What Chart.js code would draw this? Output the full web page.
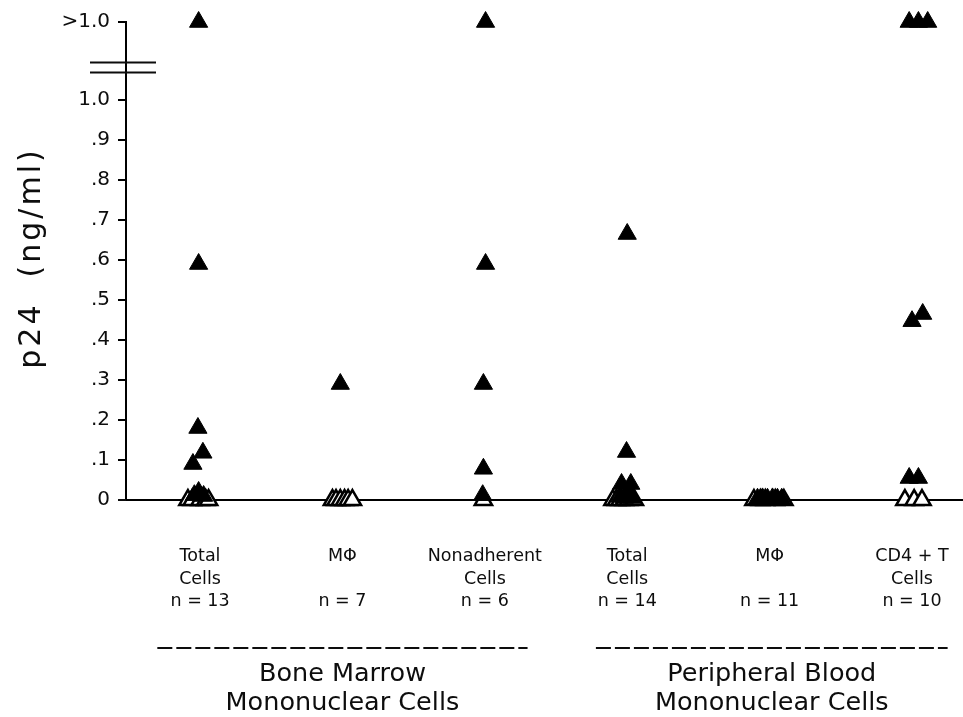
<!DOCTYPE html>
<html><head><meta charset="utf-8">
<script src="https://cdn.jsdelivr.net/npm/chart.js@4"></script>
<style>html,body{margin:0;padding:0;background:#fff}#wrap{width:963px;height:717px}</style>
</head><body><div id="wrap"><canvas id="c" width="963" height="717"></canvas></div>
<script>
// ---- data ----
const categories = [
  ["Total", "Cells", "n = 13"],
  ["M\u03A6", "", "n = 7"],
  ["Nonadherent", "Cells", "n = 6"],
  ["Total", "Cells", "n = 14"],
  ["M\u03A6", "", "n = 11"],
  ["CD4 + T", "Cells", "n = 10"]
];
const groupTitles = [
  ["Bone Marrow", "Mononuclear Cells"],
  ["Peripheral Blood", "Mononuclear Cells"]
];
const groupSpans = [[1, 3], [4, 6]];   // which categories each group title covers
const yAxisTitle = "p24  (ng/ml)";
const OFF_SCALE = 1.195;                 // plotted position of values ">1.0"
const yTickValues = [0, 0.1, 0.2, 0.3, 0.4, 0.5, 0.6, 0.7, 0.8, 0.9, 1.0, OFF_SCALE];
const yTickLabels = ["0", ".1", ".2", ".3", ".4", ".5", ".6", ".7", ".8", ".9", "1.0", ">1.0"];

// filled triangles (p24 positive)
const positiveValues = [
  [OFF_SCALE, 0.59, 0.18, 0.118, 0.09, 0.02, 0.012, 0.01],
  [0.29],
  [OFF_SCALE, 0.59, 0.29, 0.078, 0.012],
  [0.665, 0.12, 0.04, 0.04, 0.008, 0.005, 0.01, 0.005],
  [0.003, 0.004, 0.003, 0.004, 0.003, 0.003],
  [OFF_SCALE, OFF_SCALE, OFF_SCALE, 0.465, 0.447, 0.055, 0.055]
];
const positiveJitter = [
  [-0.01, -0.01, -0.015, 0.02, -0.05, -0.01, -0.04, 0.025],
  [-0.015],
  [0.005, 0.005, -0.01, -0.01, -0.015],
  [0.0, -0.005, -0.04, 0.025, -0.05, -0.02, 0.01, 0.035],
  [-0.085, -0.05, -0.015, 0.02, 0.055, 0.085],
  [-0.02, 0.045, 0.11, 0.075, 0.0, -0.02, 0.045]
];
// open triangles (p24 negative)
const negativeValues = [
  [0, 0, 0, 0, 0],
  [0, 0, 0, 0, 0, 0],
  [0],
  [0, 0, 0, 0, 0, 0],
  [0, 0, 0, 0, 0],
  [0, 0, 0]
];
const negativeJitter = [
  [-0.085, -0.055, 0.0, 0.04, 0.06],
  [-0.07, -0.045, -0.015, 0.015, 0.04, 0.07],
  [-0.01],
  [-0.1, -0.075, -0.05, -0.02, 0.01, 0.05],
  [-0.11, -0.065, -0.03, 0.04, 0.1],
  [-0.05, 0.015, 0.07]
];

function toPoints(values, jitter) {
  const pts = [];
  values.forEach((arr, g) => arr.forEach((v, k) => pts.push({ x: g + 1 + jitter[g][k], y: v })));
  return pts;
}

const FONT = "'DejaVu Sans', 'Liberation Sans', sans-serif";
const INK = "#0d0d0d";

const decor = {
  id: "decor",
  afterDraw(chart) {
    const { ctx, scales: { x, y } } = chart;
    ctx.save();
    // axis break marks
    ctx.strokeStyle = INK;
    ctx.lineWidth = 1.8;
    [1.095, 1.07].forEach(v => {
      const py = Math.round(y.getPixelForValue(v)) + 0.5;
      ctx.beginPath();
      ctx.moveTo(x.left - 36, py);
      ctx.lineTo(x.left + 30, py);
      ctx.stroke();
    });
    // zero line extends a little left of the axis
    const y0 = y.getPixelForValue(0);
    ctx.lineWidth = 2;
    ctx.beginPath();
    ctx.moveTo(x.left - 8, y0);
    ctx.lineTo(x.left, y0);
    ctx.stroke();
    // y axis title
    ctx.save();
    ctx.translate(40, (chart.chartArea.top + chart.chartArea.bottom) / 2 - 3);
    ctx.rotate(-Math.PI / 2);
    ctx.font = "30px " + FONT;
    if ('letterSpacing' in ctx) ctx.letterSpacing = "3px";
    ctx.fillStyle = INK;
    ctx.textAlign = "center";
    ctx.textBaseline = "alphabetic";
    ctx.fillText(yAxisTitle, 0, 0);
    ctx.restore();
    // group dashed lines and titles
    const spanPad = [[-0.3, 0.3], [-0.22, 0.25]];
    groupSpans.forEach((span, i) => {
      const x1 = x.getPixelForValue(span[0] + spanPad[i][0]);
      const x2 = x.getPixelForValue(span[1] + spanPad[i][1]);
      ctx.setLineDash([15, 4]);
      ctx.lineWidth = 1.8;
      ctx.beginPath();
      ctx.moveTo(x1, 648);
      ctx.lineTo(x2, 648);
      ctx.stroke();
      ctx.setLineDash([]);
      ctx.font = "25.5px " + FONT;
      ctx.fillStyle = INK;
      ctx.textAlign = "center";
      ctx.textBaseline = "middle";
      const cx = (x1 + x2) / 2;
      groupTitles[i].forEach((line, k) => ctx.fillText(line, cx, 674 + k * 29));
    });
    ctx.restore();
  }
};

new Chart(document.getElementById("c"), {
  type: "scatter",
  data: {
    datasets: [
      {
        label: "p24 positive",
        data: toPoints(positiveValues, positiveJitter),
        pointStyle: "triangle",
        pointRadius: 10.5,
        backgroundColor: "#000",
        borderColor: "#000",
        borderWidth: 1,
        clip: false
      },
      {
        label: "p24 negative",
        data: toPoints(negativeValues, negativeJitter),
        pointStyle: "triangle",
        pointRadius: 10,
        backgroundColor: "#fff",
        borderColor: "#000",
        borderWidth: 2.5,
        clip: false
      }
    ]
  },
  options: {
    responsive: false,
    animation: false,
    devicePixelRatio: 1,
    layout: { autoPadding: false, padding: { top: 22, right: 0, bottom: 0, left: 0 } },
    plugins: { legend: { display: false }, tooltip: { enabled: false } },
    elements: { point: { hoverRadius: 10 } },
    scales: {
      x: {
        type: "linear",
        min: 0.48,
        max: 6.358,
        afterFit(s) { s.height = 217; s.paddingLeft = 0; s.paddingRight = 0; },
        afterBuildTicks(s) { s.ticks = categories.map((c, i) => ({ value: i + 1 })); },
        ticks: {
          callback: v => categories[Math.round(v) - 1],
          font: { family: FONT, size: 17.5, lineHeight: 1.3 },
          color: INK,
          padding: 45,
          maxRotation: 0,
          autoSkip: false
        },
        grid: { display: false, drawTicks: false },
        border: { display: true, color: "#000", width: 2 }
      },
      y: {
        min: 0,
        max: OFF_SCALE,
        afterFit(s) { s.width = 126; s.paddingTop = 0; s.paddingBottom = 0; },
        afterBuildTicks(s) { s.ticks = yTickValues.map(v => ({ value: v })); },
        ticks: {
          callback: (v, i) => yTickLabels[i],
          font: { family: FONT, size: 20 },
          color: INK,
          padding: 8
        },
        grid: { drawOnChartArea: false, drawTicks: true, tickLength: 8, color: "#000", lineWidth: 2 },
        border: { display: true, color: "#000", width: 2 }
      }
    }
  },
  plugins: [decor]
});
</script>
</body></html>
